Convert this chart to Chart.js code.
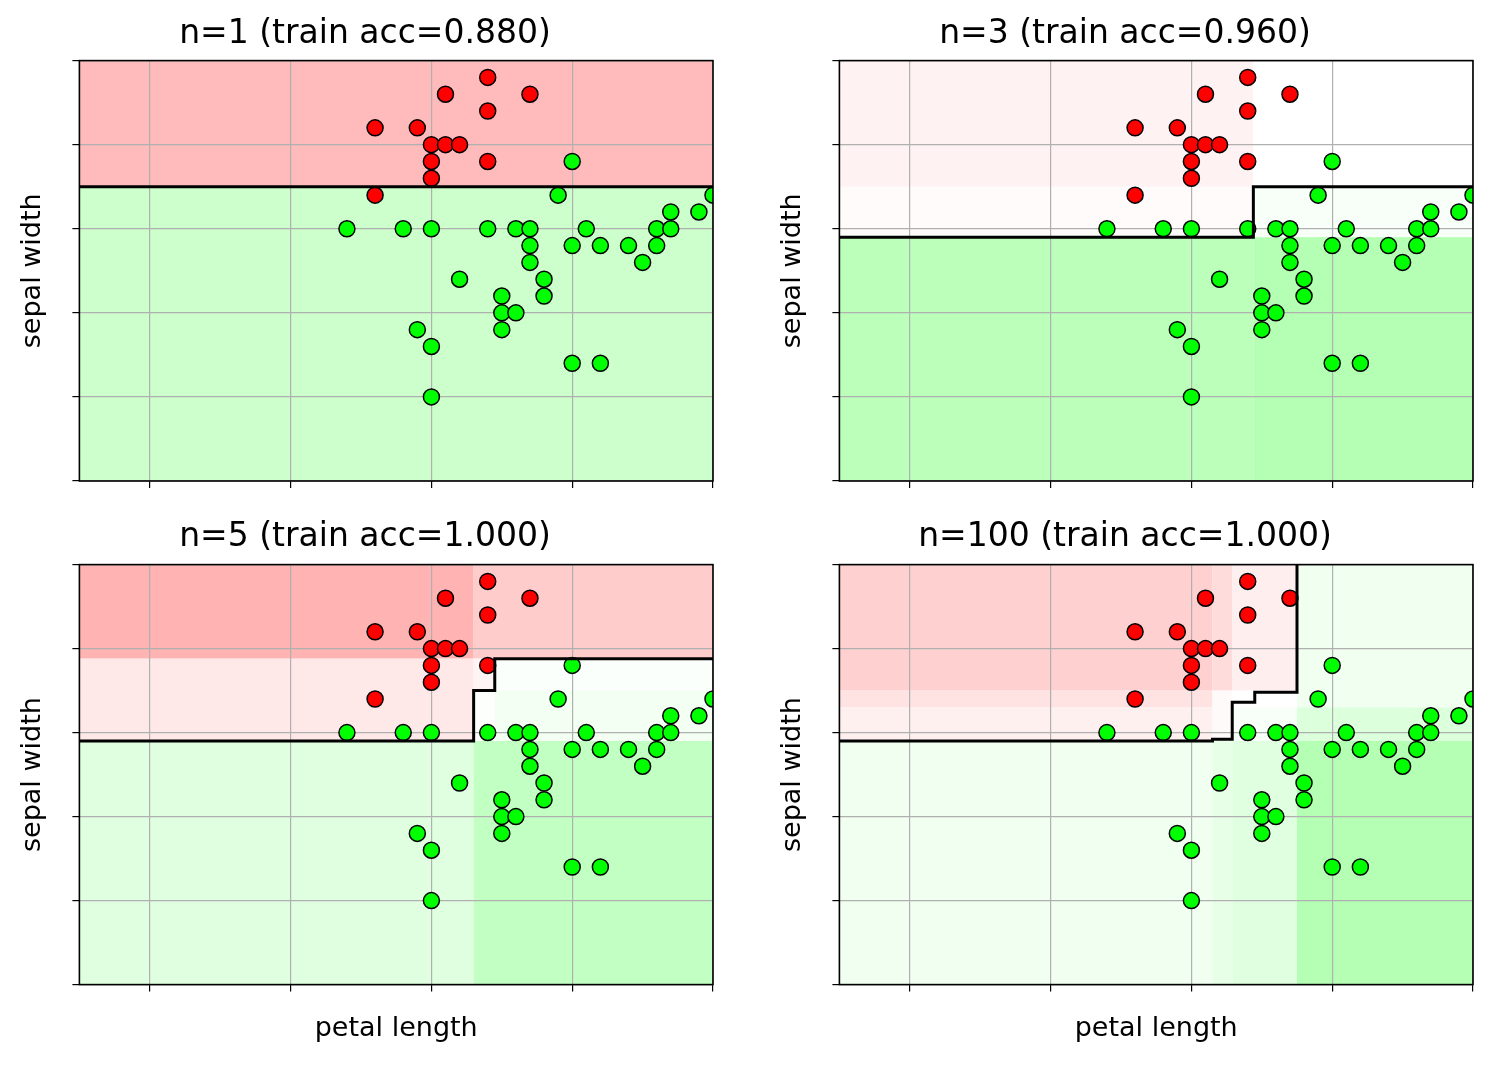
<!DOCTYPE html>
<html>
<head>
<meta charset="utf-8">
<script src="https://cdn.jsdelivr.net/npm/chart.js@4.4.1/dist/chart.umd.min.js"></script>
<style>
  body { margin: 0; background: #fff; }
  .panel { position: absolute; }
</style>
</head>
<body>
<div class="panel" style="left:0;top:0;width:746px;height:532px"><canvas id="c0"></canvas></div>
<div class="panel" style="left:746px;top:0;width:747px;height:532px"><canvas id="c1"></canvas></div>
<div class="panel" style="left:0;top:500px;width:746px;height:565px"><canvas id="c2"></canvas></div>
<div class="panel" style="left:746px;top:500px;width:747px;height:565px"><canvas id="c3"></canvas></div>
<script>
// training points (sepal length, sepal width)
const redX = [5.4, 5.1, 5.7, 4.6, 4.9, 5.4, 5.0, 5.1, 5.2, 5.0, 5.4, 5.0, 4.6];
const redY = [3.9, 3.8, 3.8, 3.6, 3.6, 3.7, 3.5, 3.5, 3.5, 3.4, 3.4, 3.3, 3.2];
const greenX = [6.0, 5.9, 4.4, 4.8, 5.0, 5.4, 5.6, 5.7, 6.1, 6.6, 6.7, 5.7, 6.0, 6.2, 6.4, 6.6,
  5.7, 6.5, 5.2, 5.8, 5.5, 5.8, 5.5, 5.6, 5.5, 4.9, 5.0, 6.0, 6.2, 5.0, 6.7, 6.9, 7.0];
const greenY = [3.4, 3.2, 3.0, 3.0, 3.0, 3.0, 3.0, 3.0, 3.0, 3.0, 3.0, 2.9, 2.9, 2.9, 2.9, 2.9,
  2.8, 2.8, 2.7, 2.7, 2.6, 2.6, 2.5, 2.5, 2.4, 2.4, 2.3, 2.2, 2.2, 2.0, 3.1, 3.1, 3.2];

const titles = ['n=1 (train acc=0.880)', 'n=3 (train acc=0.960)',
  'n=5 (train acc=1.000)', 'n=100 (train acc=1.000)'];

const xTicks = [3, 4, 5, 6, 7];
const yTicks = [1.5, 2.0, 2.5, 3.0, 3.5, 4.0];

// decision boundaries
const boundX = [
  [2.5, 7.0],
  [2.5, 5.44, 5.44, 7.0],
  [2.5, 5.3, 5.3, 5.45, 5.45, 7.0],
  [2.5, 5.15, 5.15, 5.29, 5.29, 5.45, 5.45, 5.75, 5.75]
];
const boundY = [
  [3.25, 3.25],
  [2.95, 2.95, 3.25, 3.25],
  [2.95, 2.95, 3.25, 3.25, 3.44, 3.44],
  [2.95, 2.95, 2.96, 2.96, 3.18, 3.18, 3.24, 3.24, 4.0]
];

// predicted regions: [x0, x1, y0, y1]
const regions = [
  [[2.5, 7, 3.25, 4], [2.5, 7, 1.5, 3.25]],
  [[2.5, 5.44, 3.25, 4], [2.5, 5.44, 2.95, 3.25], [2.5, 5.44, 1.5, 2.95],
   [5.44, 7, 3.25, 4], [5.44, 7, 2.95, 3.25], [5.44, 7, 1.5, 2.95]],
  [[2.5, 5.3, 3.44, 4], [2.5, 5.3, 2.95, 3.44], [2.5, 5.3, 1.5, 2.95],
   [5.3, 7, 3.44, 4], [5.3, 5.45, 3.25, 3.44], [5.3, 7, 1.5, 2.95],
   [5.3, 5.45, 2.95, 3.25], [5.45, 7, 3.25, 3.44], [5.45, 7, 2.95, 3.25]],
  [[2.5, 5.15, 3.25, 4], [2.5, 5.15, 3.15, 3.25], [2.5, 5.15, 2.95, 3.15], [2.5, 5.15, 1.5, 2.95],
   [5.15, 5.29, 3.25, 4], [5.15, 5.29, 2.95, 3.25], [5.15, 5.29, 1.5, 2.95],
   [5.29, 5.75, 3.25, 4], [5.29, 5.75, 3.15, 3.25], [5.29, 5.75, 2.95, 3.15], [5.29, 5.75, 1.5, 2.95],
   [5.75, 7, 3.15, 4], [5.75, 7, 2.95, 3.15], [5.75, 7, 1.5, 2.95]]
];
const regionColors = [
  ['#ffbbbb', '#ccffcc'],
  ['#fff2f2', '#fffbfb', '#bbffbb', '#ffffff', '#f8fff8', '#b5ffb5'],
  ['#ffb3b3', '#ffe8e8', '#e0ffe0', '#ffcccc', '#fff4f4', '#c2ffc2', '#fdfffd', '#fbfffb', '#f2fff2'],
  ['#ffd0d0', '#ffe2e2', '#fff0f0', '#f0fff0', '#ffdcdc', '#fffafa', '#e6ffe6',
   '#ffeeee', '#ffffff', '#f8fff8', '#e0ffe0', '#f0fff0', '#dcffdc', '#b5ffb5']
];

const font = 'DejaVu Sans';

const backdrop = {
  id: 'backdrop',
  beforeDraw(chart, args, opts) {
    const { ctx, scales: { x, y } } = chart;
    regions[opts.i].forEach((r, k) => {
      const x0 = x.getPixelForValue(r[0]), x1 = x.getPixelForValue(r[1]);
      const y0 = y.getPixelForValue(r[3]), y1 = y.getPixelForValue(r[2]);
      ctx.fillStyle = regionColors[opts.i][k];
      ctx.fillRect(x0, y0, x1 - x0, y1 - y0);
    });
  },
  afterDraw(chart) {
    const { ctx, chartArea: a } = chart;
    ctx.save();
    ctx.strokeStyle = '#000';
    ctx.lineWidth = 1.6;
    ctx.strokeRect(a.left, a.top, a.right - a.left, a.bottom - a.top);
    ctx.restore();
  }
};

function pts(xs, ys) {
  return xs.map((v, i) => ({ x: v, y: ys[i] }));
}

function makeChart(i) {
  const bottom = i >= 2;
  const right = i % 2 === 1;
  new Chart(document.getElementById('c' + i), {
    type: 'scatter',
    data: {
      datasets: [
        { type: 'line', data: pts(boundX[i], boundY[i]), borderColor: '#000', borderWidth: 3,
          pointRadius: 0, fill: false, order: 0, clip: 4 },
        { data: pts(redX, redY), backgroundColor: '#ff0000', borderColor: '#000',
          borderWidth: 1.5, pointRadius: 8, order: 1 },
        { data: pts(greenX, greenY), backgroundColor: '#00ff00', borderColor: '#000',
          borderWidth: 1.5, pointRadius: 8, order: 1 }
      ]
    },
    options: {
      responsive: true,
      maintainAspectRatio: false,
      animation: false,
      layout: { padding: { left: right ? 31 : 17, right: right ? 20 : 33, top: bottom ? 18 : 15, bottom: bottom ? 20 : 44 } },
      plugins: {
        legend: { display: false },
        tooltip: { enabled: false },
        title: { display: true, text: titles[i], color: '#000', font: { family: font, size: 33, weight: 'normal' },
          padding: { top: 0, bottom: bottom ? 7 : 6 } },
        backdrop: { i: i }
      },
      scales: {
        x: {
          min: 2.5, max: 7.0,
          afterBuildTicks: s => { s.ticks = xTicks.map(v => ({ value: v })); },
          ticks: { display: false },
          grid: { color: '#b0b0b0', lineWidth: 1.2, tickColor: '#000', tickLength: 7 },
          border: { display: false },
          title: { display: bottom, text: 'petal length', color: '#000', font: { family: font, size: 27 },
            padding: { top: 21, bottom: 0 } }
        },
        y: {
          min: 1.5, max: 4.0,
          afterBuildTicks: s => { s.ticks = yTicks.map(v => ({ value: v })); },
          ticks: { display: false },
          grid: { color: '#b0b0b0', lineWidth: 1.2, tickColor: '#000', tickLength: 7 },
          border: { display: false },
          title: { display: true, text: 'sepal width', color: '#000', font: { family: font, size: 27 },
            padding: { top: 0, bottom: 23 } }
        }
      }
    },
    plugins: [backdrop]
  });
}

[0, 1, 2, 3].forEach(makeChart);
</script>
</body>
</html>
